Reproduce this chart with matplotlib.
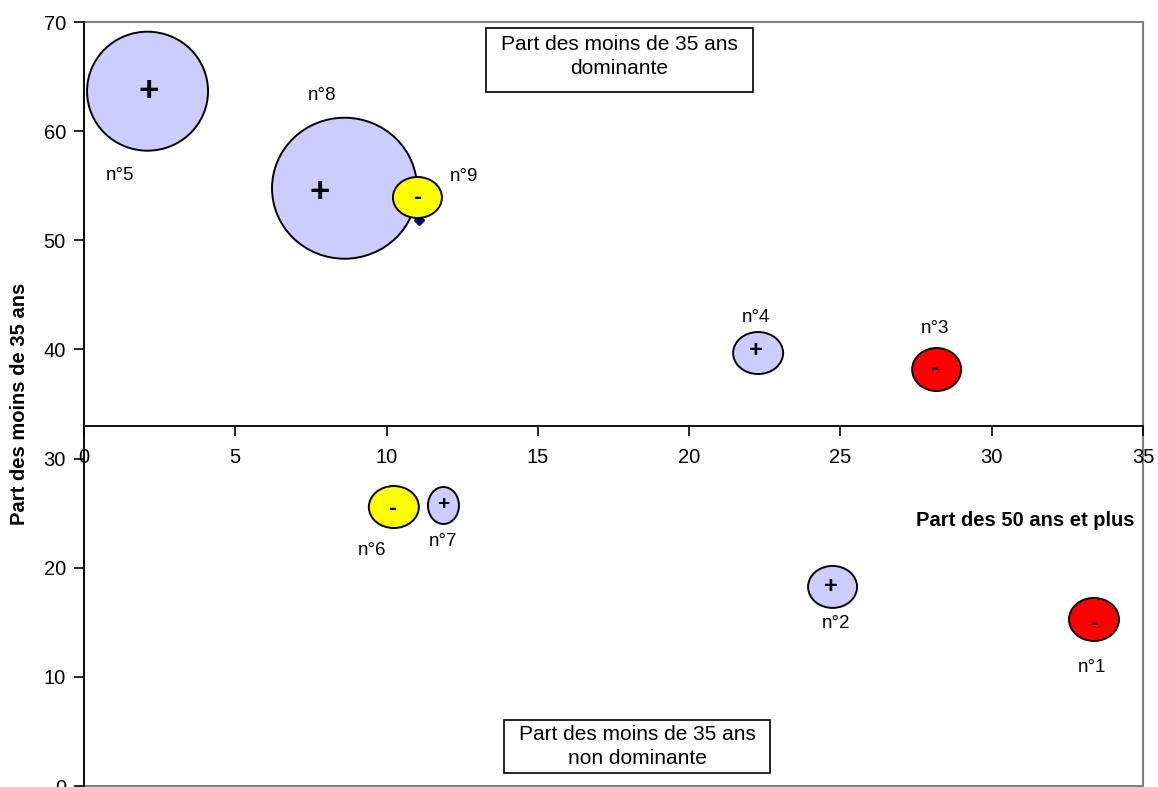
import numpy as np
import matplotlib
matplotlib.use("Agg")
import matplotlib.pyplot as plt
from matplotlib.collections import EllipseCollection
from matplotlib.patches import Rectangle

plt.rcParams['font.family'] = ['Liberation Sans', 'DejaVu Sans']

# donnees
noms = ["n°1", "n°2", "n°3", "n°4", "n°5", "n°6", "n°7", "n°8", "n°9"]
part_50 = [33.38, 24.74, 28.18, 22.28, 2.10, 10.24, 11.88, 8.61, 11.02]
part_35 = [15.26, 18.24, 38.16, 39.67, 63.66, 25.56, 25.70, 54.77, 53.92]
signes = ["-", "+", "-", "+", "+", "-", "+", "+", "-"]
couleurs = ["#FF0000", "#CCCCFF", "#FF0000", "#CCCCFF", "#CCCCFF",
            "#FFFF00", "#CCCCFF", "#CCCCFF", "#FFFF00"]
# taille des bulles (pixels)
largeurs = [50, 49, 49, 50, 121, 50, 31, 145, 49]
hauteurs = [43, 42, 43, 42, 119, 42, 37, 141, 41]
# decalage des etiquettes (pixels)
lab_dx = [-2, 3, -2, -2, -27, -22, 0, -22, 47]
lab_dy = [-48, -37, 41, 36, -84, -43, -36, 93, 21]
sign_dx = [0, -2, -3, -2, 1, -2, 0, -25, 0]
sign_dy = [-4, 0, 1, 3, 0, -1, 1, -4, 0]
sign_fs = [17, 17, 17, 17, 25, 17, 15, 25, 17]

fig = plt.figure(figsize=(11.58, 7.87), dpi=100)
ax = fig.add_axes([84/1158, 1/787, (1143-84)/1158, (786-22)/787])

ax.set_xlim(0, 35)
ax.set_ylim(0, 70)

# petit losange sous n°9
ax.plot([11.08], [51.9], marker='D', color='#000080', markersize=5, zorder=1)

ec = EllipseCollection(largeurs, hauteurs, np.zeros(len(noms)), units='dots',
                       offsets=np.column_stack([part_50, part_35]),
                       offset_transform=ax.transData,
                       facecolors=couleurs, edgecolors='black', linewidths=1.4,
                       zorder=2)
ax.add_collection(ec)

for i in range(len(noms)):
    ax.annotate(signes[i], (part_50[i], part_35[i]), xytext=(sign_dx[i], sign_dy[i]),
                textcoords='offset pixels', ha='center', va='center',
                fontsize=sign_fs[i], fontweight='heavy', zorder=3)
    ax.annotate(noms[i], (part_50[i], part_35[i]), xytext=(lab_dx[i], lab_dy[i]),
                textcoords='offset pixels', ha='center', va='center',
                fontsize=13.5, zorder=3)

# axes
for s in ['top', 'right']:
    ax.spines[s].set_visible(False)
ax.spines['bottom'].set_position(('data', 33))
ax.spines['bottom'].set_linewidth(1.3)
ax.spines['left'].set_linewidth(1.3)
ax.add_patch(Rectangle((0, 0), 1, 1, transform=ax.transAxes, fill=False,
                       edgecolor='#808080', linewidth=1.5, clip_on=False, zorder=0))

ax.set_xticks(np.arange(0, 36, 5))
ax.set_yticks(np.arange(0, 71, 10))
ax.tick_params(axis='both', direction='out', length=7, width=1.2, labelsize=14.5)
ax.tick_params(axis='x', pad=9)
ax.tick_params(axis='y', pad=6)

fig.text(20/1158, 1 - 404/787, "Part des moins de 35 ans", rotation=90,
         ha='center', va='center', fontsize=14.5, fontweight='bold')
ax.text(1135/1158, 1 - 521/787, "Part des 50 ans et plus", transform=fig.transFigure,
        ha='right', va='center', fontsize=14.5, fontweight='bold')

# encadres
ax.add_artist(Rectangle((486/1158, 1 - 92/787), 267/1158, 64/787, transform=fig.transFigure,
                        facecolor='white', edgecolor='black', linewidth=1.2, zorder=4))
ax.text(619/1158, 1 - 56.5/787, "Part des moins de 35 ans\ndominante", transform=fig.transFigure,
        ha='center', va='center', fontsize=15, linespacing=1.3, zorder=5)
ax.add_artist(Rectangle((504/1158, 1 - 773/787), 266/1158, 53/787, transform=fig.transFigure,
                        facecolor='white', edgecolor='black', linewidth=1.2, zorder=4))
ax.text(637/1158, 1 - 746.5/787, "Part des moins de 35 ans\nnon dominante", transform=fig.transFigure,
        ha='center', va='center', fontsize=15, linespacing=1.3, zorder=5)

fig.savefig("out.png", dpi=100)
